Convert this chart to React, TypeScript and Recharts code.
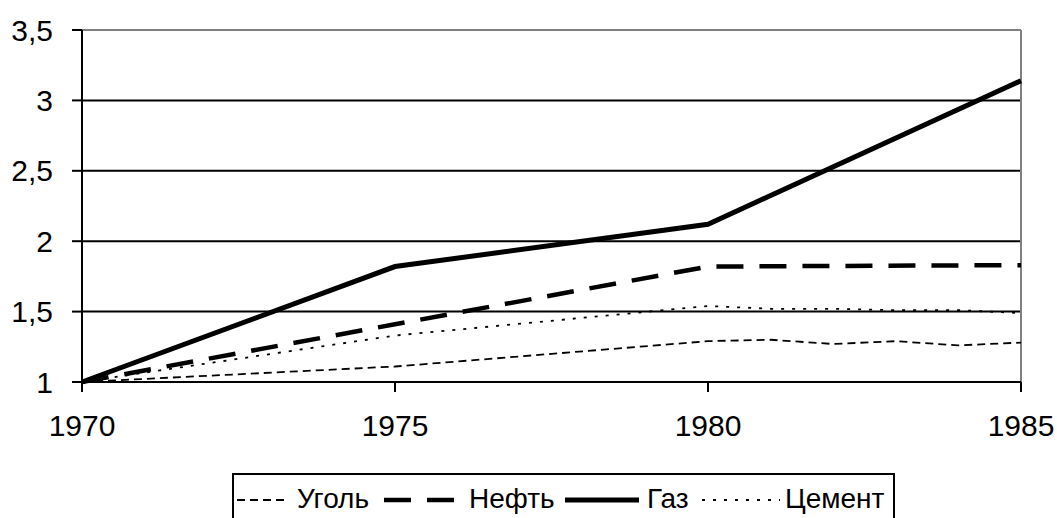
import React from "react";
import { LineChart, Line, XAxis, YAxis, CartesianGrid, ReferenceLine } from "recharts";

const years = [1970, 1975, 1980, 1981, 1982, 1983, 1984, 1985];
const coal = [1, 1.11, 1.29, 1.3, 1.27, 1.29, 1.26, 1.28];
const oil = [1, 1.41, 1.82, null, null, null, null, 1.83];
const gas = [1, 1.82, 2.12, null, null, null, null, 3.14];
const cement = [1, 1.33, 1.54, 1.52, 1.52, 1.51, 1.51, 1.49];

const xTicks = [1970, 1975, 1980, 1985];
const yTicks = [1, 1.5, 2, 2.5, 3, 3.5];

// legend item offsets inside the box: sample start, sample width, text start
const series = [
  { key: "coal", name: "Уголь", width: 1.8, dash: "8 5", at: 3, sample: 50, text: 63 },
  { key: "oil", name: "Нефть", width: 4.5, dash: "27 16", at: 150, sample: 70, text: 235 },
  { key: "gas", name: "Газ", width: 5, dash: undefined, at: 331, sample: 74, text: 413 },
  { key: "cement", name: "Цемент", width: 1.8, dash: "3 8", at: 468, sample: 78, text: 551 },
];

const data = years.map((year, i) => ({
  year,
  coal: coal[i],
  oil: oil[i],
  gas: gas[i],
  cement: cement[i],
}));

const font = "'Liberation Sans', Arial, sans-serif";
const tickStyle = { fontSize: 30, fill: "#000", fontFamily: font };

function LegendBox() {
  return (
    <div
      style={{
        position: "absolute",
        left: 232,
        top: 473,
        width: 663,
        height: 60,
        borderTop: "2px solid #000",
        borderLeft: "2px solid #000",
        borderRight: "2px solid #000",
        boxSizing: "border-box",
        fontFamily: font,
        fontSize: 28,
        lineHeight: "28px",
        color: "#000",
        background: "#fff",
      }}
    >
      {series.map((s) => (
        <React.Fragment key={s.key}>
          <svg width={s.sample} height={10} style={{ position: "absolute", left: s.at, top: 20 }}>
            <line x1={0} y1={5} x2={s.sample} y2={5} stroke="#000" strokeWidth={s.width} strokeDasharray={s.dash} />
          </svg>
          <span style={{ position: "absolute", left: s.text, top: 10, whiteSpace: "nowrap" }}>{s.name}</span>
        </React.Fragment>
      ))}
    </div>
  );
}

export default function App() {
  return (
    <div style={{ position: "absolute", left: 0, top: 0, width: 1057, height: 518, background: "#fff", overflow: "hidden" }}>
      <LineChart width={1057} height={518} data={data} margin={{ top: 30, right: 36, left: 0, bottom: 78 }}>
        <CartesianGrid vertical={false} horizontalValues={[1.5, 2, 2.5, 3]} stroke="#000" strokeWidth={2} />
        <ReferenceLine y={3.5} stroke="#808080" strokeWidth={2} />
        <ReferenceLine x={1985} stroke="#808080" strokeWidth={2} />
        <XAxis
          dataKey="year"
          type="number"
          domain={[1970, 1985]}
          ticks={xTicks}
          tick={tickStyle}
          fontSize={30}
          tickSize={10}
          tickMargin={23}
          height={58}
          stroke="#000"
          strokeWidth={2}
          interval={0}
        />
        <YAxis
          type="number"
          domain={[1, 3.5]}
          ticks={yTicks}
          tick={tickStyle}
          fontSize={30}
          tickSize={10}
          tickMargin={19}
          width={82}
          stroke="#000"
          strokeWidth={2}
          interval={0}
          tickFormatter={(v: number) => String(v).replace(".", ",")}
        />
        {series.map((s) => (
          <Line
            key={s.key}
            type="linear"
            dataKey={s.key}
            name={s.name}
            stroke="#000"
            strokeWidth={s.width}
            strokeDasharray={s.dash}
            dot={false}
            activeDot={false}
            connectNulls
            isAnimationActive={false}
          />
        ))}
      </LineChart>
      <LegendBox />
    </div>
  );
}
